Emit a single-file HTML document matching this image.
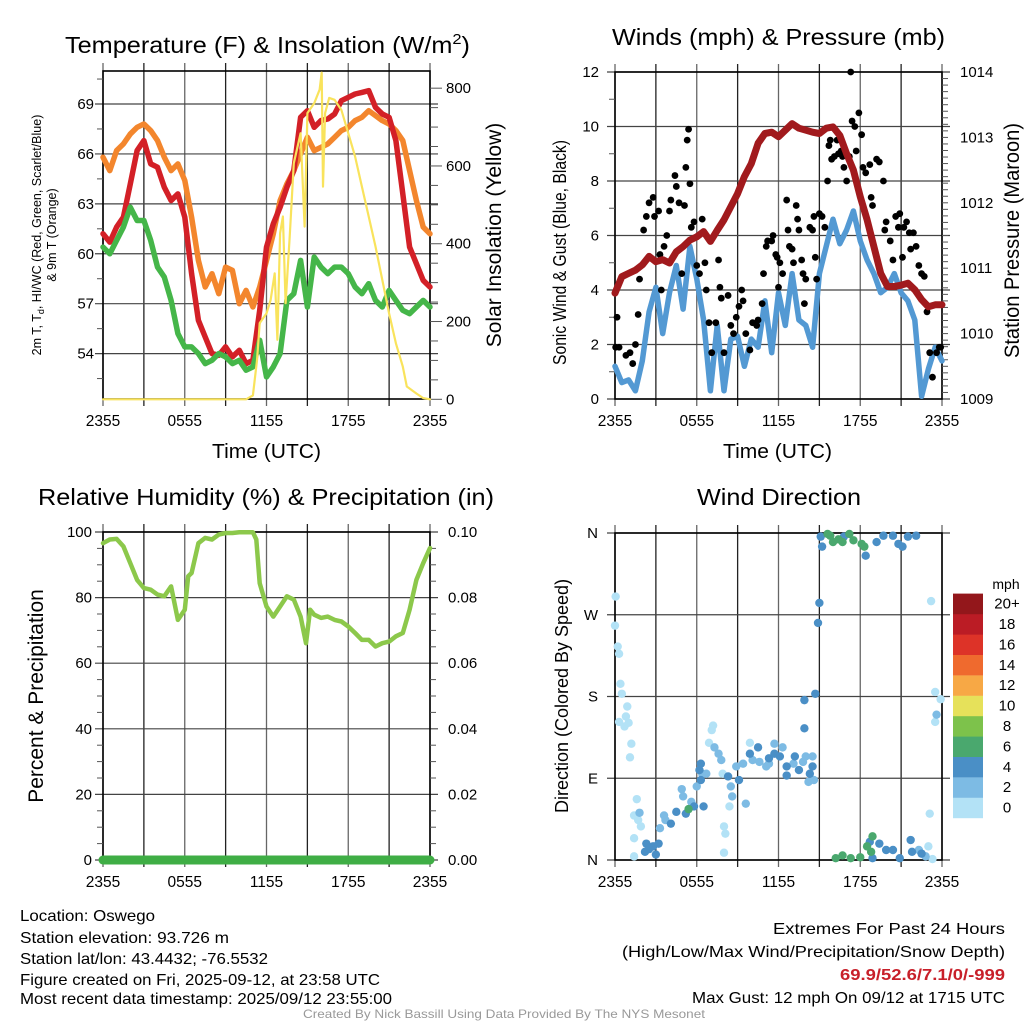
<!DOCTYPE html>
<html><head><meta charset="utf-8">
<style>
html,body{margin:0;padding:0;background:#fff;}
svg{display:block;font-family:"Liberation Sans",sans-serif;}
</style></head>
<body>
<svg id="fig" width="1024" height="1024" viewBox="0 0 1024 1024">
<rect x="0" y="0" width="1024" height="1024" fill="#fff"/>
<text x="65" y="53" font-size="23" textLength="405" lengthAdjust="spacingAndGlyphs">Temperature (F) &amp; Insolation (W/m<tspan dy="-9" font-size="15">2</tspan><tspan dy="9">)</tspan></text>
<text x="612" y="45" font-size="23" textLength="333" lengthAdjust="spacingAndGlyphs">Winds (mph) &amp; Pressure (mb)</text>
<text x="38" y="505" font-size="23" textLength="456" lengthAdjust="spacingAndGlyphs">Relative Humidity (%) &amp; Precipitation (in)</text>
<text x="697" y="505" font-size="23" textLength="164" lengthAdjust="spacingAndGlyphs">Wind Direction</text>

<text x="212" y="458" font-size="20" textLength="109" lengthAdjust="spacingAndGlyphs">Time (UTC)</text>
<text x="723" y="458" font-size="20" textLength="109" lengthAdjust="spacingAndGlyphs">Time (UTC)</text>

<text transform="translate(41,235) rotate(-90)" font-size="12.5" text-anchor="middle">2m T, T<tspan font-size="9" dy="3">d</tspan><tspan dy="-3">, HI/WC (Red, Green, Scarlet/Blue)</tspan></text>
<text transform="translate(56,235) rotate(-90)" font-size="12.5" text-anchor="middle">&amp; 9m T (Orange)</text>
<text transform="translate(501,235) rotate(-90)" font-size="21" text-anchor="middle">Solar Insolation (Yellow)</text>
<text transform="translate(566,365) rotate(-90)" font-size="18" textLength="225" lengthAdjust="spacingAndGlyphs">Sonic Wind &amp; Gust (Blue, Black)</text>
<text transform="translate(1019,358) rotate(-90)" font-size="21" textLength="235" lengthAdjust="spacingAndGlyphs">Station Pressure (Maroon)</text>
<text transform="translate(43,696) rotate(-90)" font-size="21" text-anchor="middle">Percent &amp; Precipitation</text>
<text transform="translate(568,696) rotate(-90)" font-size="18" text-anchor="middle">Direction (Colored By Speed)</text>

<g font-size="16">
<text x="20" y="921" textLength="135" lengthAdjust="spacingAndGlyphs">Location: Oswego</text>
<text x="20" y="943" textLength="209" lengthAdjust="spacingAndGlyphs">Station elevation: 93.726 m</text>
<text x="20" y="964" textLength="248" lengthAdjust="spacingAndGlyphs">Station lat/lon: 43.4432; -76.5532</text>
<text x="20" y="985" textLength="360" lengthAdjust="spacingAndGlyphs">Figure created on Fri, 2025-09-12, at 23:58 UTC</text>
<text x="20" y="1004" textLength="372" lengthAdjust="spacingAndGlyphs">Most recent data timestamp: 2025/09/12 23:55:00</text>
<text x="773" y="934" textLength="232" lengthAdjust="spacingAndGlyphs">Extremes For Past 24 Hours</text>
<text x="622" y="957" textLength="383" lengthAdjust="spacingAndGlyphs">(High/Low/Max Wind/Precipitation/Snow Depth)</text>
<text x="840" y="980" textLength="165" lengthAdjust="spacingAndGlyphs" fill="#c8202a" font-weight="bold">69.9/52.6/7.1/0/-999</text>
<text x="692" y="1003" textLength="313" lengthAdjust="spacingAndGlyphs">Max Gust: 12 mph On 09/12 at 1715 UTC</text>
<text x="303" y="1018" font-size="12" textLength="402" lengthAdjust="spacingAndGlyphs" fill="#999">Created By Nick Bassill Using Data Provided By The NYS Mesonet</text>
</g>
<g id="layer"></g>
</svg>
<script>
// ---------- DATA ----------
const xTickLabels = ["2355","0555","1155","1755","2355"];
const xTickHours = [0,6,12,18,24];
const halfHours = [0,0.5,1,1.5,2,2.5,3,3.5,4,4.5,5,5.5,6,6.5,7,7.5,8,8.5,9,9.5,10,10.5,11,11.5,12,12.5,13,13.5,14,14.5,15,15.5,16,16.5,17,17.5,18,18.5,19,19.5,20,20.5,21,21.5,22,22.5,23,23.5,24];
const tempRed = [61.2,60.7,61.6,62.2,64.2,66.2,66.8,65.4,65.2,64.0,63.2,63.6,62.2,58.8,56.0,55.0,54.0,53.9,54.4,53.8,54.2,53.4,53.6,56.6,60.4,61.8,62.8,64.0,65.0,68.2,68.6,67.6,68.0,68.1,68.4,69.2,69.4,69.6,69.7,69.8,68.8,68.4,68.2,66.8,63.6,60.4,59.4,58.4,58.0];
const temp9m = [65.8,65.0,66.2,66.6,67.2,67.6,67.8,67.4,66.8,65.8,65.0,65.4,64.4,62.2,59.6,58.0,58.8,57.6,59.2,59.0,57.0,57.8,56.8,58.0,59.6,61.2,63.2,64.2,65.0,66.0,67.0,66.2,66.4,66.6,67.0,67.4,67.6,68.0,68.2,68.6,68.3,68.0,67.8,67.4,66.8,65.0,63.2,61.6,61.2];
const dewPoint = [60.4,60.0,60.8,61.6,62.8,62.0,62.0,60.8,59.2,58.6,57.2,55.2,54.4,54.4,54.0,53.4,53.6,54.0,53.8,53.4,53.6,53.0,53.2,54.8,52.6,53.2,54.0,57.2,57.6,59.6,56.8,59.8,59.2,58.8,59.2,59.2,58.8,58.0,57.6,58.2,57.2,56.8,57.8,57.2,56.6,56.4,56.8,57.2,56.8];
const solarHours = [0,10.5,11,11.3,11.5,12,12.3,12.6,12.8,13,13.2,13.4,13.7,14,14.5,14.8,15,15.5,15.9,16.05,16.15,16.3,16.6,17,17.5,18,18.5,19,19.5,20,20.5,21,21.5,22,22.3,23,23.5,24];
const solarVals = [0,0,10,100,196,221,255,324,153,427,470,247,418,607,684,444,736,761,796,840,547,736,775,770,744,684,624,547,470,393,307,221,144,84,33,15,3,0];
const pressure = [1010.62,1010.87,1010.92,1010.97,1011.05,1011.18,1011.10,1011.13,1011.08,1011.25,1011.33,1011.43,1011.48,1011.56,1011.41,1011.58,1011.74,1011.94,1012.14,1012.40,1012.60,1012.91,1013.06,1013.08,1013.01,1013.11,1013.21,1013.14,1013.11,1013.08,1013.06,1013.14,1013.16,1013.03,1012.75,1012.50,1012.09,1011.74,1011.33,1010.92,1010.72,1010.72,1010.74,1010.77,1010.67,1010.52,1010.41,1010.44,1010.44];
const windSpeed = [1.2,0.6,0.7,0.3,1.4,3.2,4.1,2.4,3.9,4.9,3.3,5.6,4.4,2.9,0.3,2.7,0.3,2.2,2.3,1.2,2.2,1.9,3.6,1.7,3.9,2.7,4.6,2.9,2.7,1.9,4.6,5.6,6.6,5.7,6.2,6.9,5.8,5.1,4.6,3.9,4.1,4.6,3.9,3.6,2.9,0.1,1.1,1.9,1.4];
const gustHours = [0.05,0.15,0.3,0.8,1.1,1.3,1.5,1.7,1.8,2.1,2.3,2.5,2.8,2.9,3.2,3.3,3.4,3.6,3.8,4.0,4.1,4.4,4.5,4.7,4.9,5.1,5.2,5.3,5.4,5.5,5.6,5.8,6.0,6.2,6.4,6.6,6.7,6.9,7.1,7.4,7.6,7.7,7.8,8.0,8.3,8.5,8.7,8.9,9.1,9.3,9.4,9.6,9.9,10.1,10.4,10.5,10.8,10.9,11.1,11.2,11.5,11.6,11.8,11.9,12.0,12.1,12.3,12.6,12.7,12.8,13.0,13.1,13.3,13.4,13.5,13.7,13.8,13.9,14.0,14.3,14.5,14.6,14.7,14.8,15.0,15.2,15.4,15.6,15.7,15.8,15.9,16.1,16.3,16.4,16.6,16.7,16.8,17.0,17.2,17.3,17.4,17.6,17.7,17.9,18.1,18.2,18.4,18.7,18.8,18.9,19.2,19.4,19.7,19.8,19.9,20.2,20.4,20.6,20.8,20.9,21.1,21.2,21.4,21.6,21.7,21.9,22.1,22.3,22.5,22.7,22.9,23.1,23.3,23.6,23.8,23.9];
const gustVals = [1.9,3.0,1.9,1.6,1.7,1.3,2.0,3.1,4.4,6.2,6.7,7.2,7.4,6.7,6.9,5.3,4.0,5.6,6.0,6.9,7.3,8.2,7.8,7.2,4.6,7.1,8.5,9.5,9.9,7.9,6.3,6.5,4.9,4.6,6.6,5.0,4.0,2.8,1.7,2.8,5.1,4.1,3.7,1.7,3.8,2.7,2.4,3.0,3.4,4.0,3.6,2.4,1.8,2.8,2.7,2.9,3.5,4.6,5.6,5.8,5.8,6.0,5.3,5.2,4.1,5.0,4.6,7.3,6.2,5.6,5.5,5.0,7.1,6.6,6.2,5.1,4.6,3.5,4.4,6.3,6.2,6.7,5.2,4.4,6.8,6.7,6.3,8.0,9.3,9.5,8.8,8.9,9.5,9.0,9.1,8.9,8.5,8.0,8.9,12.0,10.2,10.0,9.1,10.5,9.7,8.5,8.3,8.6,7.4,7.1,8.8,8.7,8.0,6.2,6.5,5.8,5.1,6.7,6.3,6.8,5.2,6.3,6.5,6.1,5.5,6.1,5.6,4.9,4.6,4.5,3.2,1.7,0.8,1.7,1.9,1.9];
const rhHours = [0,0.5,1,1.5,2,2.5,3,3.5,4,4.5,5,5.5,6,6.25,6.5,7,7.5,8,8.5,9,9.5,10,10.5,11,11.25,11.5,12,12.5,13,13.5,14,14.5,14.9,15.2,15.5,16,16.5,17,17.5,18,18.5,19,19.5,20,20.5,21,21.5,22,22.5,23,23.5,24];
const rhVals = [96.6,97.7,97.9,95.6,90.5,85.4,82.9,82.4,80.9,80.4,83.4,73.2,76.3,86.5,87.5,96.6,98.2,97.7,99.2,99.7,99.7,99.9,99.9,99.9,97.7,84.4,77.3,74.2,77.3,80.4,79.4,74.2,66.1,76.3,74.8,73.8,74.2,73.2,72.7,71.2,69.2,67.1,67.1,65.1,66.1,66.6,68.2,69.2,76.3,85.4,90.5,95.1];
const precipHours = [0,24];
const precipVals = [0,0];
const dirHours = [0.05,0,0.2,0.3,0.4,0.5,0.9,0.8,0.3,0.7,1.0,1.2,1.1,1.6,1.4,1.7,1.9,1.4,1.4,7.2,7.1,6.9,7.9,8.0,8.1,8.0,8.4,9.9,23.2,23.5,23.9,23.5,23.1,23.0,23.3,
 1.8,3.6,3.3,3.7,4.9,5.0,5.6,6.0,6.4,6.7,7.3,7.6,7.8,8.5,8.6,8.9,9.4,9.6,10.1,10.6,11.1,11.3,11.7,12.3,13.1,13.8,14.0,14.2,14.6,14.5,22.3,22.8,23.6,
 2.3,2.2,2.8,3.2,4.1,4.5,5.2,5.8,6.3,6.2,6.5,6.3,8.3,9.1,9.9,10.5,11.3,11.7,12.1,12.6,12.6,13.2,13.5,13.9,13.9,14.3,14.5,14.7,14.9,15.0,15.1,15.2,16.8,18.4,19.2,19.7,20.4,20.8,21.1,21.5,22.1,18.7,18.9,19.4,19.9,20.4,20.9,21.7,21.8,22.5,2.5,3.0,
 5.4,15.6,16.0,16.7,17.2,17.5,18.1,18.3,16.2,16.7,17.3,18.0,18.5,18.9,18.8,15.8,16.4];
const dirDegrees = [290,258,235,227,194,183,169,158,152,147,151,128,113,67,49,44,37,24,4,148,143,129,95,37,29,8,59,129,285,185,177,152,51,15,1,
 52,49,35,44,78,70,64,81,95,95,124,117,110,81,70,103,106,62,110,108,103,106,128,124,106,108,114,86,88,114,11,4,160,
 18,9,15,18,40,53,51,59,106,99,59,88,92,88,117,124,112,117,114,103,93,114,99,176,145,95,103,183,261,283,356,345,356,335,350,357,357,348,345,356,357,20,2,18,11,11,2,22,9,7,12,6,
 56,359,350,350,359,352,348,345,2,5,2,3,15,26,9,357,353];
const dirSpeeds = [1,1,1,1,1,1,1,1,1,1,1,1,1,1,1,1,1,1,1,1,1,1,1,1,1,1,1,1,1,1,1,1,1,1,1,
 3,3,3,3,3,3,3,3,3,3,3,3,3,3,3,3,3,3,3,3,3,3,3,3,3,3,3,3,3,3,3,3,3,
 5,5,5,5,5,5,5,5,5,5,5,5,5,5,5,5,5,5,5,5,5,5,5,5,5,5,5,5,5,5,5,5,5,5,5,5,5,5,5,5,5,5,5,5,5,5,5,5,5,5,5,5,
 7,7,7,7,7,7,7,7,7,7,7,7,7,7,7,7,7];
const cbarLabels = ["0","2","4","6","8","10","12","14","16","18","20+"];
const cbarColors = ["#b3e2f6","#7dbbe4","#4a8fc6","#4aa86e","#7dc24b","#e6e15a","#f7a845","#ef6a2e","#dd3328","#bb1c25","#93171b"];
const tempTicks = [54,57,60,63,66,69];
const solarTicks = [0,200,400,600,800];
const windTicks = [0,2,4,6,8,10,12];
const pressTicks = [1009,1010,1011,1012,1013,1014];
const rhTicks = [0,20,40,60,80,100];
const precipTicks = ["0.00","0.02","0.04","0.06","0.08","0.10"];
const dirTicks = ["N","E","S","W","N"];

// ---------- SCALES ----------
const NS = "http://www.w3.org/2000/svg";
const layer = document.getElementById("layer");
function el(tag, attrs, parent){ const e=document.createElementNS(NS,tag); for(const k in attrs) e.setAttribute(k,attrs[k]); (parent||layer).appendChild(e); return e; }
const xScale = (x0) => (h) => x0 + h*327/24;
const x1s = xScale(103), x2s = xScale(615);
const yTemp = v => 104 + (69-v)*16.64;
const ySolar = w => 399.3 - w*0.3889;
const yWind = v => 399 - v*27.25;
const yPress = p => 399 - (p-1009)*65.4;
const yRH = v => 860 - v*3.28;
const yPrecip = v => 860 - v*3280;
const yDir = d => 860 - d*327/360;
function pathD(xs, ys, xf, yf){ return xs.map((h,i)=>(i?"L":"M")+xf(h).toFixed(1)+","+yf(ys[i]).toFixed(1)).join(""); }

// ---------- FRAMES / GRID ----------
function panel(x0, top, bot, hLines, name){
  const g = el("g", {});
  
  
  for(let k=0;k<=8;k++){
    const x = x0 + k*327/8;
    const l = el("line",{x1:x,x2:x,y1:top-8,y2:bot+7,stroke:(k%2?"#222":"#666"),"stroke-width":1.3},g);
    
    
  }
  hLines.forEach(y=>{
    const l = el("line",{x1:x0-8,x2:x0+327+8,y1:y,y2:y,stroke:"#444","stroke-width":1.2},g);
    
    
  });
  const r = el("rect",{x:x0,y:top,width:327,height:bot-top,fill:"none",stroke:"#000","stroke-width":1.6},g);
  
  
  xTickHours.forEach((h,i)=>{
    const t = el("text",{x:x0+h*327/24,y:bot+27,"font-size":15.5,"text-anchor":"middle"},g);
    t.textContent = xTickLabels[i];
    
    
  });
  return g;
}
function yLabels(g, vals, texts, yf, x, anchor, name){
  vals.forEach((v,i)=>{
    const t = el("text",{x:x,y:yf(v)+5,"font-size":15,"text-anchor":anchor},g);
    t.textContent = texts[i];
    
    
  });
}
function minorTicks(g, ys, x, len){
  ys.forEach(y=>{ const l=el("line",{x1:x,x2:x+len,y1:y,y2:y,stroke:"#555","stroke-width":1},g);
    
     });
}

// Panel 1
const g1 = panel(103, 71, 399, tempTicks.map(yTemp), "temperature");
yLabels(g1, tempTicks, tempTicks.map(String), yTemp, 94, "end", "temperature-y-tick-label");
yLabels(g1, solarTicks, solarTicks.map(String), ySolar, 446, "start", "solar-y-tick-label");
{ const ys=[]; for(let w=50; w<850; w+=50) if(w%200) ys.push(ySolar(w)); minorTicks(g1, ys, 430, 8);
  const yl=[]; for(let v=52.5; v<71; v+=3) yl.push(yTemp(v)); minorTicks(g1, yl, 97, 6); }
solarTicks.forEach(w=>minorTicks(g1,[ySolar(w)],430,12));
// Panel 2
const g2 = panel(615, 72, 399, windTicks.map(yWind), "winds");
yLabels(g2, windTicks, windTicks.map(String), yWind, 599, "end", "wind-y-tick-label");
yLabels(g2, pressTicks, pressTicks.map(String), yPress, 960, "start", "pressure-y-tick-label");
{ const ys=[]; for(let p=1009.1; p<1014; p+=0.1) ys.push(yPress(p)); minorTicks(g2, ys, 942, 6);
  const yl=[]; for(let v=1; v<12; v+=2) yl.push(yWind(v)); minorTicks(g2, yl, 609, 6); }
// Panel 3
const g3 = panel(103, 532, 860, rhTicks.map(yRH), "humidity");
yLabels(g3, rhTicks, rhTicks.map(String), yRH, 92, "end", "rh-y-tick-label");
yLabels(g3, rhTicks, precipTicks, yRH, 448, "start", "precip-y-tick-label");
{ const ys=[]; for(let v=5; v<100; v+=5) if(v%20) ys.push(yRH(v)); minorTicks(g3, ys, 430, 6); minorTicks(g3, ys, 97, 6); }
// Panel 4
const g4 = panel(615, 533, 860, [0,90,180,270,360].map(yDir), "direction");
yLabels(g4, [0,90,180,270,360], dirTicks, yDir, 598, "end", "direction-y-tick-label");

// ---------- SERIES ----------
function line(xs, ys, xf, yf, color, w, name){
  const p = el("path",{d:pathD(xs,ys,xf,yf),fill:"none",stroke:color,"stroke-width":w,"stroke-linejoin":"round","stroke-linecap":"round"});
  
  
}
line(halfHours, temp9m, x1s, yTemp, "#f3862d", 5.5, "9m-temperature-line");
line(halfHours, tempRed, x1s, yTemp, "#d32027", 5.5, "2m-temperature-line");
line(halfHours, dewPoint, x1s, yTemp, "#45b649", 5.5, "dewpoint-line");
line(solarHours, solarVals, x1s, ySolar, "#f9e35c", 2.2, "solar-insolation-line");

line(halfHours, windSpeed, x2s, yWind, "#5399d3", 5.5, "wind-speed-line");
gustHours.forEach((h,i)=>{
  const c = el("circle",{cx:x2s(h),cy:yWind(gustVals[i]),r:3.4,fill:"#000"});
  
  
});
line(halfHours, pressure, x2s, yPress, "#a11a1d", 7, "pressure-line");

line(rhHours, rhVals, x1s, yRH, "#8cc84b", 4.5, "relative-humidity-line");
line(precipHours, precipVals, x1s, yPrecip, "#3fae45", 9, "precipitation-line");

function speedColor(s){ return cbarColors[Math.min(10, Math.floor(s/2))]; }
dirHours.forEach((h,i)=>{
  const c = el("circle",{cx:x2s(h),cy:yDir(dirDegrees[i]),r:4.2,fill:speedColor(dirSpeeds[i])});
  
  
});

// ---------- COLORBAR ----------
const cb = el("g",{});


const cbt = el("text",{x:1006,y:589,"font-size":14,"text-anchor":"middle"},cb);
cbt.textContent = "mph";


cbarLabels.forEach((lab,i)=>{
  const y = 818 - (i+1)*20.4;
  const r = el("rect",{x:953,y:y,width:30,height:20.6,fill:cbarColors[i]},cb);
  
  
  const t = el("text",{x:1007,y:y+15,"font-size":15,"text-anchor":"middle"},cb);
  t.textContent = lab;
  
  
});
</script>
</body></html>
